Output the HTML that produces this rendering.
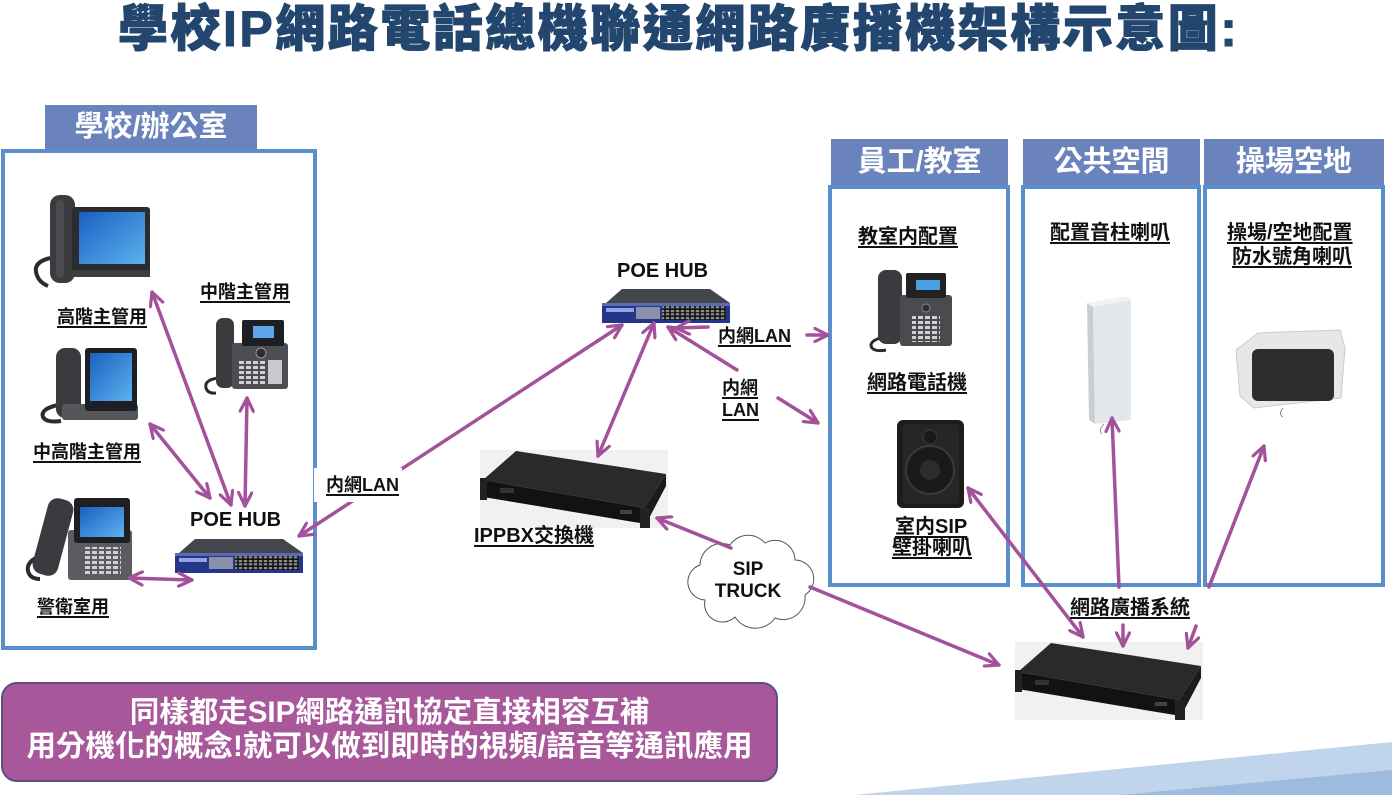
<!DOCTYPE html>
<html><head><meta charset="utf-8">
<style>
*{margin:0;padding:0;box-sizing:border-box}
body{width:1392px;height:795px;overflow:hidden;background:#fff;position:relative;font-family:"Liberation Sans","Noto Sans CJK TC",sans-serif;}
.t{position:absolute;background:#6b83bc;color:#fff;font-weight:bold;text-align:center;font-size:29px;white-space:nowrap}
.b{position:absolute;border:4px solid #5b8fcb;background:#fff}
.l{position:absolute;white-space:nowrap;font-weight:bold;color:#111;text-decoration:underline;text-decoration-thickness:1.5px;text-underline-offset:3px}
.n{position:absolute;white-space:nowrap;font-weight:bold;color:#111}
svg{position:absolute;left:0;top:0}
</style></head><body>

<div class="n" style="left:118px;top:4px;font-size:50px;line-height:50px;letter-spacing:2.5px;color:#23466f;-webkit-text-stroke:1px #23466f;font-weight:900">學校IP網路電話總機聯通網路廣播機架構示意圖:</div>

<div class="t" style="left:45px;top:105px;width:212px;height:44px;line-height:44px">學校/辦公室</div>
<div class="b" style="left:1px;top:149px;width:316px;height:501px"></div>

<div class="t" style="left:831px;top:139px;width:177px;height:46px;line-height:46px">員工/教室</div>
<div class="t" style="left:1023px;top:139px;width:177px;height:46px;line-height:46px">公共空間</div>
<div class="t" style="left:1204px;top:139px;width:180px;height:46px;line-height:46px">操場空地</div>
<div class="b" style="left:828px;top:185px;width:182px;height:402px"></div>
<div class="b" style="left:1021px;top:185px;width:180px;height:402px"></div>
<div class="b" style="left:1203px;top:185px;width:182px;height:402px"></div>

<svg width="1392" height="795" viewBox="0 0 1392 795">
<defs>
<linearGradient id="scr" x1="0" y1="0" x2="1" y2="1">
<stop offset="0" stop-color="#1b5fc2"/><stop offset="1" stop-color="#5cb2ee"/>
</linearGradient>
<pattern id="ports" width="5" height="7" patternUnits="userSpaceOnUse">
<rect x="0.8" y="1" width="3.4" height="2.2" fill="#8c8c8c"/><rect x="0.8" y="4.2" width="3.4" height="2.2" fill="#8c8c8c"/>
</pattern>
<pattern id="keys" width="7" height="5" patternUnits="userSpaceOnUse">
<rect x="1" y="1" width="5" height="3" fill="#cfd0d2"/>
</pattern>
<marker id="ah" viewBox="0 0 12 12" refX="11" refY="6" markerWidth="16" markerHeight="16" markerUnits="userSpaceOnUse" orient="auto-start-reverse">
<path d="M1,1 L11,6 L1,11" fill="none" stroke="#a3519b" stroke-width="2.4" stroke-linecap="round" stroke-linejoin="round"/>
</marker>
<g id="hub">
<polygon points="6,15 22,1 110,1 130,15" fill="#44464d"/>
<rect x="2" y="15" width="128" height="20" fill="#24358a"/>
<rect x="2" y="15" width="128" height="3" fill="#5a6bb0"/>
<rect x="6" y="20" width="28" height="4" fill="#8fa4e0"/>
<rect x="36" y="19" width="24" height="12" fill="#8a90a8"/>
<rect x="62" y="18" width="64" height="14" fill="#101216"/>
<rect x="62" y="18" width="64" height="14" fill="url(#ports)"/>
</g>
<g id="rack">
<rect x="0" y="0" width="188" height="78" fill="#f1f1f1"/>
<polygon points="3,30 36,1 186,24 164,58" fill="#2a2a2c"/>
<polygon points="3,30 164,58 166,74 3,47" fill="#121213"/>
<polygon points="164,58 186,24 186,36 166,74" fill="#1b1b1c"/>
<rect x="0" y="28" width="7" height="22" fill="#222"/>
<rect x="160" y="58" width="10" height="20" fill="#222"/>
<rect x="20" y="38" width="14" height="5" fill="#333"/>
<rect x="140" y="60" width="12" height="4" fill="#444"/>
</g>
</defs>

<!-- big phone -->
<path d="M50 258 q-16 4 -14 14 q2 10 12 14" fill="none" stroke="#2b2b2b" stroke-width="4"/>
<rect x="50" y="195" width="25" height="88" rx="10" fill="#3a3b3e"/>
<rect x="56" y="200" width="8" height="78" rx="4" fill="#4b4c50"/>
<rect x="72" y="207" width="78" height="70" rx="3" fill="#2b2c30"/>
<rect x="79" y="212" width="66" height="52" fill="url(#scr)"/>
<rect x="72" y="270" width="78" height="7" fill="#3d3e42"/>

<!-- mid phone -->
<path d="M218 378 q-14 2 -12 10 q2 6 10 5" stroke="#2b2b2b" stroke-width="3" fill="none"/>
<rect x="216" y="318" width="18" height="70" rx="7" fill="#3a3b3e"/>
<rect x="232" y="343" width="56" height="46" rx="3" fill="#4d4e52"/>
<rect x="242" y="320" width="42" height="26" rx="2" fill="#1e1f22"/>
<rect x="253" y="326" width="21" height="12" fill="#5aa6e6"/>
<circle cx="261" cy="353" r="5" fill="#2c2d30" stroke="#999" stroke-width="1"/>
<rect x="238" y="361" width="28" height="25" fill="url(#keys)"/>
<rect x="268" y="360" width="14" height="24" fill="#c9cacc"/>

<!-- mid-high phone -->
<path d="M58 405 q-18 4 -15 12 q3 6 18 4" stroke="#2b2b2b" stroke-width="4" fill="none"/>
<rect x="56" y="348" width="25" height="70" rx="9" fill="#3a3b3e"/>
<rect x="62" y="404" width="76" height="16" rx="3" fill="#55565a"/>
<rect x="85" y="348" width="52" height="63" rx="3" fill="#1e1f22"/>
<rect x="90" y="353" width="42" height="48" fill="url(#scr)"/>

<!-- guard phone -->
<path d="M42 555 q-16 6 -14 16 q2 8 12 8" stroke="#2b2b2b" stroke-width="4" fill="none"/>
<rect x="40" y="498" width="26" height="78" rx="10" fill="#3a3b3e" transform="rotate(15 53 537)"/>
<rect x="68" y="530" width="64" height="50" rx="3" fill="#5b5c60"/>
<rect x="74" y="498" width="56" height="45" rx="3" fill="#1e1f22"/>
<rect x="80" y="507" width="44" height="30" fill="url(#scr)"/>
<rect x="85" y="547" width="36" height="28" fill="url(#keys)"/>

<!-- hubs -->
<use href="#hub" x="173" y="538"/>
<use href="#hub" x="600" y="288"/>

<!-- rack devices -->
<use href="#rack" x="480" y="450"/>
<use href="#rack" x="1015" y="642"/>

<!-- employee phone -->
<path d="M880 338 q-12 4 -8 10 q4 4 14 2" stroke="#2b2b2b" stroke-width="3" fill="none"/>
<rect x="878" y="270" width="24" height="74" rx="8" fill="#3a3b3e"/>
<rect x="900" y="295" width="52" height="51" rx="3" fill="#4a4b4f"/>
<rect x="906" y="273" width="40" height="25" rx="2" fill="#222"/>
<rect x="916" y="280" width="24" height="10" fill="#4aa0e0"/>
<circle cx="926" cy="308" r="4" fill="#2c2d30" stroke="#888" stroke-width="1"/>
<rect x="912" y="316" width="28" height="26" fill="url(#keys)"/>

<!-- wall speaker -->
<rect x="897" y="420" width="67" height="88" rx="6" fill="#1c1c1d"/>
<rect x="903" y="424" width="56" height="80" rx="4" fill="#262627"/>
<circle cx="930" cy="470" r="24" fill="#1a1a1b" stroke="#3b3b3c" stroke-width="2"/>
<circle cx="930" cy="470" r="10" fill="#2d2d2e"/>
<circle cx="930" cy="437" r="7" fill="#1a1a1b" stroke="#3b3b3c"/>

<!-- column speaker -->
<polygon points="1087,303 1093,307 1095,424 1089,420" fill="#c9ced3"/>
<polygon points="1093,307 1131,300 1131,420 1095,424" fill="#e3e7ea"/>
<polygon points="1087,303 1125,296 1131,300 1093,307" fill="#f0f2f4"/>
<path d="M1104 424 q-6 6 -2 10" stroke="#999" fill="none"/>

<!-- horn speaker -->
<polygon points="1236,350 1258,333 1340,330 1345,348 1341,398 1254,408 1240,396" fill="#e5e8e7" stroke="#c8cccb"/>
<rect x="1252" y="349" width="82" height="52" rx="6" fill="#2c2d2e"/>
<path d="M1283 408 q-5 6 0 9" stroke="#888" fill="none"/>

<!-- cloud -->
<path d="M705 600 A18 18 0 0 1 700 565 A22 22 0 0 1 730 545 A22 22 0 0 1 765 543 A20 20 0 0 1 795 560 A19 19 0 0 1 805 595 A22 22 0 0 1 775 618 A24 24 0 0 1 735 617 A18 18 0 0 1 705 600 Z" fill="#fff" stroke="#555" stroke-width="1"/>

<!-- wedge -->
<polygon points="854,795 1392,742 1392,795" fill="#c0d4eb"/>
<polygon points="1120,795 1392,770 1392,795" fill="#9dbbdf"/>

<!-- arrows -->
<g stroke="#a3519b" stroke-width="3.5" fill="none" stroke-linecap="round">
<path d="M152,292 L231,505" marker-start="url(#ah)" marker-end="url(#ah)"/>
<path d="M247,398 L245,506" marker-start="url(#ah)" marker-end="url(#ah)"/>
<path d="M150,424 L210,498" marker-start="url(#ah)" marker-end="url(#ah)"/>
<path d="M129,578 L192,580" marker-start="url(#ah)" marker-end="url(#ah)"/>
<path d="M299,536 L622,325" marker-start="url(#ah)" marker-end="url(#ah)"/>
<path d="M654,323 L598,456" marker-start="url(#ah)" marker-end="url(#ah)"/>
<path d="M676,328 L708,327" marker-start="url(#ah)"/>
<path d="M807,335 L828,335" marker-end="url(#ah)"/>
<path d="M668,327 L737,370" marker-start="url(#ah)"/>
<path d="M778,398 L818,423" marker-end="url(#ah)"/>
<path d="M731,548 L657,518" marker-end="url(#ah)"/>
<path d="M810,587 L999,665" marker-end="url(#ah)"/>
<path d="M968,488 L1083,637" marker-start="url(#ah)" marker-end="url(#ah)"/>
<path d="M1119,587 L1112,418" marker-end="url(#ah)"/>
<path d="M1123,625 L1123,646" marker-end="url(#ah)"/>
<path d="M1209,587 L1264,446" marker-end="url(#ah)"/>
<path d="M1196,626 L1188,648" marker-end="url(#ah)"/>
</g>
</svg>

<!-- labels -->
<div class="l" style="left:57px;top:308px;font-size:18px;line-height:18px">高階主管用</div>
<div class="l" style="left:200px;top:283px;font-size:18px;line-height:18px">中階主管用</div>
<div class="l" style="left:33px;top:443px;font-size:18px;line-height:18px">中高階主管用</div>
<div class="l" style="left:37px;top:598px;font-size:18px;line-height:18px">警衛室用</div>
<div class="n" style="left:190px;top:510px;font-size:20px;line-height:20px">POE HUB</div>
<div class="n" style="left:617px;top:261px;font-size:20px;line-height:20px">POE HUB</div>

<div style="position:absolute;left:314px;top:468px;width:88px;height:34px;background:#fff"></div>
<div class="l" style="left:326px;top:476px;font-size:18px;line-height:18px">内網LAN</div>
<div class="l" style="left:474px;top:526px;font-size:20px;line-height:20px">IPPBX交換機</div>
<div class="l" style="left:718px;top:327px;font-size:18px;line-height:18px">内網LAN</div>
<div class="l" style="left:722px;top:379px;font-size:18px;line-height:18px">内網</div>
<div class="l" style="left:722px;top:401px;font-size:18px;line-height:18px">LAN</div>
<div class="n" style="left:698px;top:560px;width:100px;text-align:center;font-size:19px;line-height:20px">SIP</div>
<div class="n" style="left:698px;top:582px;width:100px;text-align:center;font-size:19px;line-height:20px">TRUCK</div>

<div class="l" style="left:858px;top:227px;font-size:20px;line-height:20px">教室内配置</div>
<div class="l" style="left:867px;top:373px;font-size:20px;line-height:20px">網路電話機</div>
<div class="l" style="left:895px;top:517px;font-size:20px;line-height:20px">室内SIP</div>
<div class="l" style="left:892px;top:538px;font-size:20px;line-height:20px">壁掛喇叭</div>
<div class="l" style="left:1050px;top:223px;font-size:20px;line-height:20px">配置音柱喇叭</div>
<div class="l" style="left:1227px;top:223px;font-size:20px;line-height:20px">操場/空地配置</div>
<div class="l" style="left:1232px;top:247px;font-size:20px;line-height:20px">防水號角喇叭</div>
<div class="l" style="left:1070px;top:598px;font-size:20px;line-height:20px">網路廣播系統</div>

<div style="position:absolute;left:1px;top:682px;width:777px;height:100px;border-radius:16px;background:#a9579b;border:2px solid #5f4e80"></div>
<div class="n" style="left:1px;top:696px;width:777px;text-align:center;color:#fff;font-size:29.5px;line-height:34px">同樣都走SIP網路通訊協定直接相容互補<br>用分機化的概念!就可以做到即時的視頻/語音等通訊應用</div>

</body></html>
